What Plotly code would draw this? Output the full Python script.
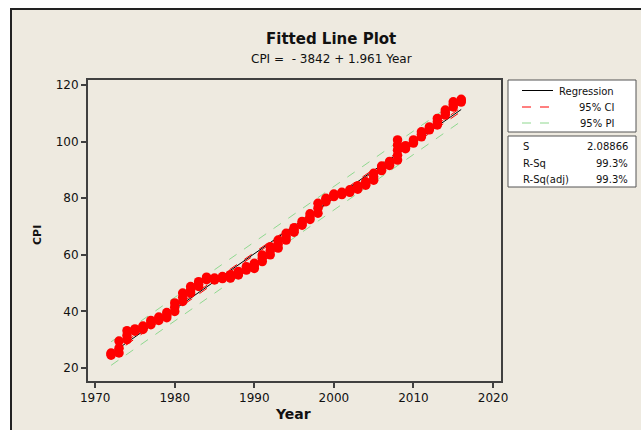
import numpy as np
import plotly.graph_objects as go

# ---- data (CPI values per year) ----
years = [1972, 1973, 1974, 1975, 1976, 1977, 1978, 1979, 1980, 1981,
         1982, 1983, 1984, 1985, 1986, 1987, 1988, 1989, 1990, 1991,
         1992, 1993, 1994, 1995, 1996, 1997, 1998, 1999, 2000, 2001,
         2002, 2003, 2004, 2005, 2006, 2007, 2008, 2009, 2010, 2011,
         2012, 2013, 2014, 2015, 2016]
cpi_by_year = [
    [24.5, 25.0, 25.3], [25.3, 27.0, 29.5], [30.0, 31.5, 33.2], [33.0, 33.4, 33.8],
    [33.6, 34.2, 34.8], [35.3, 36.0, 36.8], [36.8, 37.4, 38.0], [37.8, 38.6, 39.6],
    [40.0, 41.5, 43.0], [43.5, 45.0, 46.5], [46.5, 47.6, 48.8], [48.8, 49.6, 50.5],
    [51.2, 51.7, 52.1], [51.1, 51.4, 51.8], [51.6, 51.9, 52.3], [51.8, 52.4, 53.0],
    [52.9, 53.5, 54.1], [54.6, 55.2, 55.8], [55.2, 56.1, 57.0], [57.6, 58.8, 59.9],
    [60.0, 61.4, 62.9], [62.4, 63.8, 65.2], [65.2, 66.4, 67.6], [68.0, 68.8, 69.6],
    [70.5, 71.1, 71.8], [72.5, 73.5, 74.5], [74.7, 76.5, 78.2], [78.8, 79.4, 80.0],
    [80.6, 81.1, 81.5], [81.3, 81.7, 82.1], [82.1, 82.5, 83.0], [83.2, 83.8, 84.4],
    [84.6, 85.2, 85.8], [86.4, 87.6, 88.8], [89.8, 90.6, 91.4], [91.6, 92.3, 93.0],
    [93.5, 95.2, 97.0, 98.8, 100.6], [97.5, 98.0, 98.6], [99.5, 100.0, 100.6],
    [101.7, 102.6, 103.5], [104.2, 104.7, 105.2], [105.9, 107.0, 108.2],
    [109.4, 110.3, 111.2], [112.3, 113.2, 114.1], [114.0, 114.5, 115.0],
]
intercept = -3842.0
slope = 1.961
s_value = 2.08866
r_sq = "99.3%"
r_sq_adj = "99.3%"
x_ticks = [1970, 1980, 1990, 2000, 2010, 2020]
y_ticks = [20, 40, 60, 80, 100, 120]

# ---- flatten ----
xs, ys = [], []
for yr, vals in zip(years, cpi_by_year):
    for v in vals:
        xs.append(yr)
        ys.append(v)
xs = np.array(xs, float)
ys = np.array(ys, float)

n = len(xs)
xbar = xs.mean()
sxx = ((xs - xbar) ** 2).sum()
t = 1.96
grid = np.linspace(min(years), max(years), 200)
fit = intercept + slope * grid
ci = t * s_value * np.sqrt(1 / n + (grid - xbar) ** 2 / sxx)
pi = t * s_value * np.sqrt(1 + 1 / n + (grid - xbar) ** 2 / sxx)

FONT = "DejaVu Sans, Verdana, sans-serif"
GREEN = "#8fd88f"

fig = go.Figure()
for sign in (1, -1):
    fig.add_trace(go.Scatter(x=grid, y=fit + sign * pi, mode="lines",
                             line=dict(color=GREEN, width=1, dash="dash"), hoverinfo="skip"))
for sign in (1, -1):
    fig.add_trace(go.Scatter(x=grid, y=fit + sign * ci, mode="lines",
                             line=dict(color="#ff0000", width=1, dash="dash"), hoverinfo="skip"))
fig.add_trace(go.Scatter(x=grid, y=fit, mode="lines", line=dict(color="black", width=1)))
fig.add_trace(go.Scatter(x=xs, y=ys, mode="markers",
                         marker=dict(color="#ff0000", size=9.5, line=dict(width=0))))

# plot area in pixels
L, R, T, B = 88, 501, 80, 381
W, H = R - L, B - T


def px(p):
    return (p - L) / W


def py(p):
    return (B - p) / H


BEIGE = "#eeeae0"
shapes = [
    dict(type="rect", xref="paper", yref="paper", x0=px(11), x1=px(700), y0=py(9), y1=py(500),
         fillcolor=BEIGE, line=dict(width=0), layer="below"),
    dict(type="line", xref="paper", yref="paper", x0=px(10), x1=px(700), y0=py(9), y1=py(9),
         line=dict(color="#222222", width=2)),
    dict(type="line", xref="paper", yref="paper", x0=px(11), x1=px(11), y0=py(9), y1=py(500),
         line=dict(color="#222222", width=2)),
    # legend boxes
    dict(type="rect", xref="paper", yref="paper", x0=px(508), x1=px(636), y0=py(80), y1=py(132),
         fillcolor="white", line=dict(color="#555555", width=1)),
    dict(type="rect", xref="paper", yref="paper", x0=px(508), x1=px(636), y0=py(136), y1=py(187),
         fillcolor="white", line=dict(color="#555555", width=1)),
    dict(type="line", xref="paper", yref="paper", x0=px(522), x1=px(553), y0=py(90.5), y1=py(90.5),
         line=dict(color="black", width=1)),
    dict(type="line", xref="paper", yref="paper", x0=px(522), x1=px(553), y0=py(107), y1=py(107),
         line=dict(color="#ff0000", width=1, dash="dash")),
    dict(type="line", xref="paper", yref="paper", x0=px(522), x1=px(553), y0=py(123), y1=py(123),
         line=dict(color=GREEN, width=1, dash="dash")),
]

ann = []


def text(x, y, s, size=10, anchor="center", bold=False, angle=0):
    ann.append(dict(xref="paper", yref="paper", x=px(x), y=py(y), text=("<b>%s</b>" % s) if bold else s,
                    showarrow=False, xanchor=anchor, yanchor="middle", textangle=angle,
                    font=dict(family=FONT, size=size, color="#111111")))


text(331, 39, "Fitted Line Plot", size=15, bold=True)
text(331, 59, "CPI =  - 3842 + 1.961 Year", size=12)
text(616, 91, "Regression", anchor="right")
text(616, 107, "95% CI", anchor="right")
text(616, 123, "95% PI", anchor="right")
text(521, 146, "S", anchor="left")
text(630, 146, "%.5f" % s_value, anchor="right")
text(521, 163, "R-Sq", anchor="left")
text(630, 163, r_sq, anchor="right")
text(521, 179, "R-Sq(adj)", anchor="left")
text(630, 179, r_sq_adj, anchor="right")
text(293, 414, "Year", size=14, bold=True)
text(38, 235, "CPI", size=11, bold=True, angle=-90)

axis_common = dict(showgrid=False, zeroline=False, showline=True, linecolor="#404040", linewidth=2,
                   mirror=True, ticks="outside", ticklen=5, tickwidth=1.5, tickcolor="#404040",
                   tickfont=dict(family=FONT, size=12, color="#111111"))
fig.update_layout(
    width=641, height=430,
    margin=dict(l=L, r=641 - R, t=T, b=430 - B),
    paper_bgcolor="white", plot_bgcolor="white",
    showlegend=False,
    xaxis=dict(range=[1969.1, 2021.0], tickvals=x_ticks, **axis_common),
    yaxis=dict(range=[15.4, 121.8], tickvals=y_ticks, **axis_common),
    shapes=shapes, annotations=ann,
)
fig.write_html("out.html")
